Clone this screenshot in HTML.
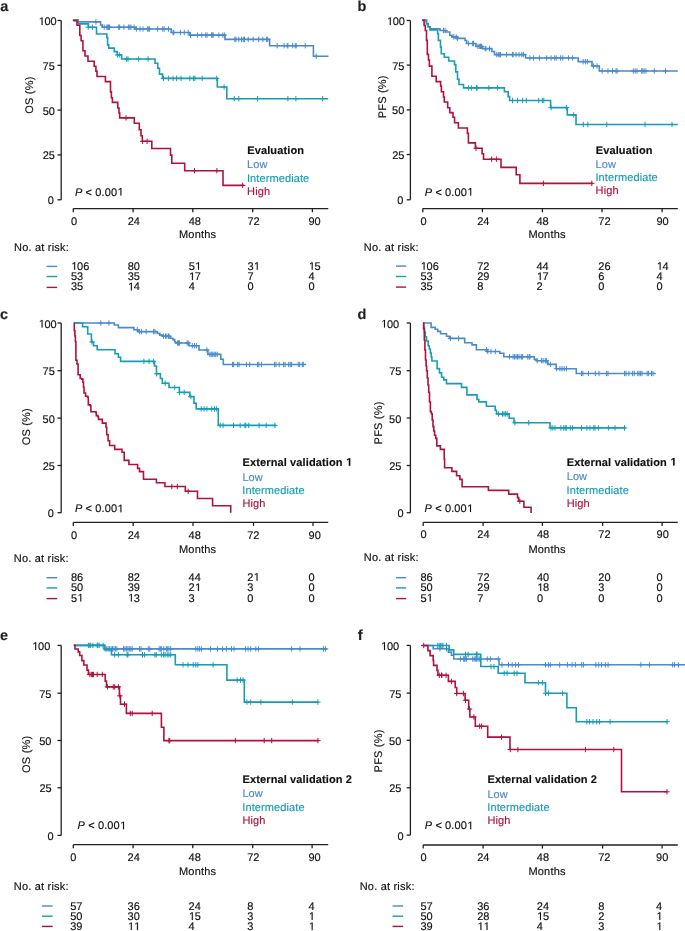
<!DOCTYPE html>
<html><head><meta charset="utf-8"><style>
html,body{margin:0;padding:0;background:#fff;}
body{width:685px;height:931px;overflow:hidden;}
svg{display:block;font-family:"Liberation Sans", sans-serif;will-change:transform;text-rendering:geometricPrecision;}
</style></head><body>
<svg width="685" height="931" viewBox="0 0 685 931">
<rect width="685" height="931" fill="#fff"/>
<text x="0.18" y="10.8" font-size="14.5" font-weight="bold" font-style="normal" fill="#231f20" stroke="#231f20" stroke-width="0.15" >a</text>
<line x1="61.2" y1="20.5" x2="61.2" y2="199.8" stroke="#231f20" stroke-width="1.3"/>
<line x1="57.5" y1="20.5" x2="61.2" y2="20.5" stroke="#231f20" stroke-width="1.3"/>
<path transform="translate(38.38,25) scale(0.005371,-0.005371)" d="M600 0L600 1237L282 1010L282 1180L615 1409L781 1409L781 0Z" fill="#111111" stroke="#111111" stroke-width="27.9"/>
<text x="38.38" y="25" font-size="11" font-weight="normal" font-style="normal" fill="#111111" stroke="#111111" stroke-width="0.15" > 00</text>
<line x1="57.5" y1="65.3" x2="61.2" y2="65.3" stroke="#231f20" stroke-width="1.3"/>
<text x="42.53" y="69.8" font-size="11" font-weight="normal" font-style="normal" fill="#111111" stroke="#111111" stroke-width="0.15" >75</text>
<line x1="57.5" y1="110.1" x2="61.2" y2="110.1" stroke="#231f20" stroke-width="1.3"/>
<text x="42.69" y="114.6" font-size="11" font-weight="normal" font-style="normal" fill="#111111" stroke="#111111" stroke-width="0.15" >50</text>
<line x1="57.5" y1="154.9" x2="61.2" y2="154.9" stroke="#231f20" stroke-width="1.3"/>
<text x="42.73" y="159.4" font-size="11" font-weight="normal" font-style="normal" fill="#111111" stroke="#111111" stroke-width="0.15" >25</text>
<line x1="57.5" y1="199.8" x2="61.2" y2="199.8" stroke="#231f20" stroke-width="1.3"/>
<text x="47.81" y="204.3" font-size="11" font-weight="normal" font-style="normal" fill="#111111" stroke="#111111" stroke-width="0.15" >0</text>
<text transform="translate(33.2,95.2) rotate(-90)" x="-18.53" y="0" font-size="11" fill="#111111" stroke="#111111" stroke-width="0.15" letter-spacing="0.2">OS (%)</text>
<line x1="73.3" y1="208.6" x2="328.3" y2="208.6" stroke="#231f20" stroke-width="1.3"/>
<line x1="73.3" y1="208.6" x2="73.3" y2="212.2" stroke="#231f20" stroke-width="1.3"/>
<line x1="133.1" y1="208.6" x2="133.1" y2="212.2" stroke="#231f20" stroke-width="1.3"/>
<line x1="192.8" y1="208.6" x2="192.8" y2="212.2" stroke="#231f20" stroke-width="1.3"/>
<line x1="252.7" y1="208.6" x2="252.7" y2="212.2" stroke="#231f20" stroke-width="1.3"/>
<line x1="312.4" y1="208.6" x2="312.4" y2="212.2" stroke="#231f20" stroke-width="1.3"/>
<text x="70.95" y="225" font-size="11" font-weight="normal" font-style="normal" fill="#111111" stroke="#111111" stroke-width="0.15" >0</text>
<text x="127.65" y="225" font-size="11" font-weight="normal" font-style="normal" fill="#111111" stroke="#111111" stroke-width="0.15" >24</text>
<text x="188.7" y="225" font-size="11" font-weight="normal" font-style="normal" fill="#111111" stroke="#111111" stroke-width="0.15" >48</text>
<text x="247.4" y="225" font-size="11" font-weight="normal" font-style="normal" fill="#111111" stroke="#111111" stroke-width="0.15" >72</text>
<text x="308.5" y="225" font-size="11" font-weight="normal" font-style="normal" fill="#111111" stroke="#111111" stroke-width="0.15" >90</text>
<text x="179" y="238" font-size="11" font-weight="normal" font-style="normal" fill="#111111" stroke="#111111" stroke-width="0.15" letter-spacing="0.2" >Months</text>
<text x="74.96" y="195.6" font-size="11" fill="#111111" stroke="#111111" stroke-width="0.15" letter-spacing="0.12"><tspan font-style="italic">P</tspan> &lt; 0.00 </text>
<path transform="translate(117.2,195.6) scale(0.005371,-0.005371)" d="M600 0L600 1237L282 1010L282 1180L615 1409L781 1409L781 0Z" fill="#111111" stroke="#111111" stroke-width="27.9"/>
<text x="247.26" y="153.8" font-size="11" font-weight="bold" font-style="normal" fill="#111111" stroke="#111111" stroke-width="0.15" letter-spacing="0.12" >Evaluation</text>
<text x="247.1" y="168" font-size="11" font-weight="normal" font-style="normal" fill="#4a8bcb" stroke="#4a8bcb" stroke-width="0.15" letter-spacing="0.1" >Low</text>
<text x="246.98" y="181.5" font-size="11" font-weight="normal" font-style="normal" fill="#189db5" stroke="#189db5" stroke-width="0.15" letter-spacing="0.1" >Intermediate</text>
<text x="247.1" y="194.9" font-size="11" font-weight="normal" font-style="normal" fill="#b0123f" stroke="#b0123f" stroke-width="0.15" letter-spacing="0.1" >High</text>
<text x="14" y="250.9" font-size="11" font-weight="normal" font-style="normal" fill="#111111" stroke="#111111" stroke-width="0.15" letter-spacing="0.2" >No. at risk:</text>
<line x1="46.6" y1="266.4" x2="57.1" y2="266.4" stroke="#4a8bcb" stroke-width="1.4"/>
<line x1="46.6" y1="276.5" x2="57.1" y2="276.5" stroke="#189db5" stroke-width="1.4"/>
<line x1="46.6" y1="287.4" x2="57.1" y2="287.4" stroke="#b0123f" stroke-width="1.4"/>
<path transform="translate(70.95,269.8) scale(0.005371,-0.005371)" d="M600 0L600 1237L282 1010L282 1180L615 1409L781 1409L781 0Z" fill="#111111" stroke="#111111" stroke-width="27.9"/>
<text x="70.95" y="269.8" font-size="11" font-weight="normal" font-style="normal" fill="#111111" stroke="#111111" stroke-width="0.15" > 06</text>
<text x="127.65" y="269.8" font-size="11" font-weight="normal" font-style="normal" fill="#111111" stroke="#111111" stroke-width="0.15" >80</text>
<path transform="translate(194.82,269.8) scale(0.005371,-0.005371)" d="M600 0L600 1237L282 1010L282 1180L615 1409L781 1409L781 0Z" fill="#111111" stroke="#111111" stroke-width="27.9"/>
<text x="188.7" y="269.8" font-size="11" font-weight="normal" font-style="normal" fill="#111111" stroke="#111111" stroke-width="0.15" >5 </text>
<path transform="translate(253.52,269.8) scale(0.005371,-0.005371)" d="M600 0L600 1237L282 1010L282 1180L615 1409L781 1409L781 0Z" fill="#111111" stroke="#111111" stroke-width="27.9"/>
<text x="247.4" y="269.8" font-size="11" font-weight="normal" font-style="normal" fill="#111111" stroke="#111111" stroke-width="0.15" >3 </text>
<path transform="translate(308.5,269.8) scale(0.005371,-0.005371)" d="M600 0L600 1237L282 1010L282 1180L615 1409L781 1409L781 0Z" fill="#111111" stroke="#111111" stroke-width="27.9"/>
<text x="308.5" y="269.8" font-size="11" font-weight="normal" font-style="normal" fill="#111111" stroke="#111111" stroke-width="0.15" > 5</text>
<text x="70.95" y="280.1" font-size="11" font-weight="normal" font-style="normal" fill="#111111" stroke="#111111" stroke-width="0.15" >53</text>
<text x="127.65" y="280.1" font-size="11" font-weight="normal" font-style="normal" fill="#111111" stroke="#111111" stroke-width="0.15" >35</text>
<path transform="translate(188.7,280.1) scale(0.005371,-0.005371)" d="M600 0L600 1237L282 1010L282 1180L615 1409L781 1409L781 0Z" fill="#111111" stroke="#111111" stroke-width="27.9"/>
<text x="188.7" y="280.1" font-size="11" font-weight="normal" font-style="normal" fill="#111111" stroke="#111111" stroke-width="0.15" > 7</text>
<text x="247.4" y="280.1" font-size="11" font-weight="normal" font-style="normal" fill="#111111" stroke="#111111" stroke-width="0.15" >7</text>
<text x="308.5" y="280.1" font-size="11" font-weight="normal" font-style="normal" fill="#111111" stroke="#111111" stroke-width="0.15" >4</text>
<text x="70.95" y="290.4" font-size="11" font-weight="normal" font-style="normal" fill="#111111" stroke="#111111" stroke-width="0.15" >35</text>
<path transform="translate(127.65,290.4) scale(0.005371,-0.005371)" d="M600 0L600 1237L282 1010L282 1180L615 1409L781 1409L781 0Z" fill="#111111" stroke="#111111" stroke-width="27.9"/>
<text x="127.65" y="290.4" font-size="11" font-weight="normal" font-style="normal" fill="#111111" stroke="#111111" stroke-width="0.15" > 4</text>
<text x="188.7" y="290.4" font-size="11" font-weight="normal" font-style="normal" fill="#111111" stroke="#111111" stroke-width="0.15" >4</text>
<text x="247.4" y="290.4" font-size="11" font-weight="normal" font-style="normal" fill="#111111" stroke="#111111" stroke-width="0.15" >0</text>
<text x="308.5" y="290.4" font-size="11" font-weight="normal" font-style="normal" fill="#111111" stroke="#111111" stroke-width="0.15" >0</text>
<path d="M73.3 20.4 H78.3 V21.9 H100.6 V25 H102.3 V27.2 H135 V29 H171.2 V32.5 H189.9 V35.1 H225 V39.4 H269.6 V45.7 H313.4 V56.3 H328.5" fill="none" stroke="#4a8bcb" stroke-width="1.6" stroke-linejoin="miter" stroke-linecap="butt"/>
<path d="M95.9 19.2V24.6M93.2 21.9H98.6M104.2 24.5V29.9M101.5 27.2H106.9M106.8 24.5V29.9M104.1 27.2H109.5M107.7 24.5V29.9M105 27.2H110.4M108.6 24.5V29.9M105.9 27.2H111.3M109.5 24.5V29.9M106.8 27.2H112.2M118.7 24.5V29.9M116 27.2H121.4M119.7 24.5V29.9M117 27.2H122.4M123.9 24.5V29.9M121.2 27.2H126.6M128.4 24.5V29.9M125.7 27.2H131.1M129.9 24.5V29.9M127.2 27.2H132.6M131 24.5V29.9M128.3 27.2H133.7M134.2 24.5V29.9M131.5 27.2H136.9M136.4 26.3V31.7M133.7 29H139.1M140 26.3V31.7M137.3 29H142.7M143 26.3V31.7M140.3 29H145.7M147.4 26.3V31.7M144.7 29H150.1M148.8 26.3V31.7M146.1 29H151.5M149.6 26.3V31.7M146.9 29H152.3M157.6 26.3V31.7M154.9 29H160.3M162.7 26.3V31.7M160 29H165.4M164.2 26.3V31.7M161.5 29H166.9M168.5 26.3V31.7M165.8 29H171.2M173.1 29.8V35.2M170.4 32.5H175.8M173.8 29.8V35.2M171.1 32.5H176.5M180.4 29.8V35.2M177.7 32.5H183.1M184.3 29.8V35.2M181.6 32.5H187M188.2 29.8V35.2M185.5 32.5H190.9M190.5 32.4V37.8M187.8 35.1H193.2M197.4 32.4V37.8M194.7 35.1H200.1M201.8 32.4V37.8M199.1 35.1H204.5M205.7 32.4V37.8M203 35.1H208.4M207 32.4V37.8M204.3 35.1H209.7M211.6 32.4V37.8M208.9 35.1H214.3M212.3 32.4V37.8M209.6 35.1H215M213.2 32.4V37.8M210.5 35.1H215.9M218.9 32.4V37.8M216.2 35.1H221.6M222.8 32.4V37.8M220.1 35.1H225.5M224.4 32.4V37.8M221.7 35.1H227.1M234.9 36.7V42.1M232.2 39.4H237.6M235.9 36.7V42.1M233.2 39.4H238.6M238.8 36.7V42.1M236.1 39.4H241.5M241.5 36.7V42.1M238.8 39.4H244.2M243.3 36.7V42.1M240.6 39.4H246M244.5 36.7V42.1M241.8 39.4H247.2M248.2 36.7V42.1M245.5 39.4H250.9M253.2 36.7V42.1M250.5 39.4H255.9M258.7 36.7V42.1M256 39.4H261.4M262.9 36.7V42.1M260.2 39.4H265.6M266.6 36.7V42.1M263.9 39.4H269.3M267.7 36.7V42.1M265 39.4H270.4M277.2 43V48.4M274.5 45.7H279.9M284.1 43V48.4M281.4 45.7H286.8M287.2 43V48.4M284.5 45.7H289.9M287.9 43V48.4M285.2 45.7H290.6M292.7 43V48.4M290 45.7H295.4M295.2 43V48.4M292.5 45.7H297.9M296.2 43V48.4M293.5 45.7H298.9M305.2 43V48.4M302.5 45.7H307.9M316.2 53.6V59M313.5 56.3H318.9" fill="none" stroke="#4a8bcb" stroke-width="1.0"/>
<path d="M73.3 20.4 H78.1 V23.9 H88.4 V27.2 H96.5 V34 H106.8 V37.6 H107.6 V44.9 H108.8 V48.1 H114.3 V51.6 H117.2 V54.9 H121.6 V59 H155 V63.2 H157.8 V68.3 H159.5 V74.1 H162.5 V78.4 H217.3 V87 H226.8 V98.7 H328.2" fill="none" stroke="#189db5" stroke-width="1.6" stroke-linejoin="miter" stroke-linecap="butt"/>
<path d="M88.2 24.5V29.9M85.5 27.2H90.9M92.4 24.5V29.9M89.7 27.2H95.1M117.5 52.2V57.6M114.8 54.9H120.2M119.3 52.2V57.6M116.6 54.9H122M126.6 56.3V61.7M123.9 59H129.3M128 56.3V61.7M125.3 59H130.7M138.7 56.3V61.7M136 59H141.4M148.1 56.3V61.7M145.4 59H150.8M163.5 75.7V81.1M160.8 78.4H166.2M168.6 75.7V81.1M165.9 78.4H171.3M173 75.7V81.1M170.3 78.4H175.7M176.6 75.7V81.1M173.9 78.4H179.3M181 75.7V81.1M178.3 78.4H183.7M189.8 75.7V81.1M187.1 78.4H192.5M193.4 75.7V81.1M190.7 78.4H196.1M194.9 75.7V81.1M192.2 78.4H197.6M202.2 75.7V81.1M199.5 78.4H204.9M216.7 75.7V81.1M214 78.4H219.4M224.1 84.3V89.7M221.4 87H226.8M234.3 96V101.4M231.6 98.7H237M238.8 96V101.4M236.1 98.7H241.5M257.6 96V101.4M254.9 98.7H260.3M287.9 96V101.4M285.2 98.7H290.6M295.9 96V101.4M293.2 98.7H298.6M322.6 96V101.4M319.9 98.7H325.3" fill="none" stroke="#189db5" stroke-width="1.0"/>
<path d="M72.8 20.4 H77 V25.3 H79.8 V35.5 H81.1 V40.7 H82.9 V50.7 H85 V56 H88 V61.3 H94.2 V66.2 H95.9 V71.1 H97 V76.5 H105.4 V81.6 H110.5 V91.9 H111.4 V97.7 H112.4 V102.4 H117.8 V108 H119 V113 H119.7 V117.9 H134.3 V123.3 H139.3 V129.7 H141 V135.8 H142.3 V141.3 H151.8 V148.5 H170.5 V155.1 H171.8 V163.3 H184.7 V170.7 H223 V185.4 H244" fill="none" stroke="#b0123f" stroke-width="1.6" stroke-linejoin="miter" stroke-linecap="butt"/>
<path d="M126 115.2V120.6M123.3 117.9H128.7M142.6 138.6V144M139.9 141.3H145.3M147.1 138.6V144M144.4 141.3H149.8M194.5 168V173.4M191.8 170.7H197.2M216.9 168V173.4M214.2 170.7H219.6M242.6 182.7V188.1M239.9 185.4H245.3" fill="none" stroke="#b0123f" stroke-width="1.0"/>
<text x="357.54" y="10.8" font-size="14.5" font-weight="bold" font-style="normal" fill="#231f20" stroke="#231f20" stroke-width="0.15" >b</text>
<line x1="410.4" y1="20.5" x2="410.4" y2="199.8" stroke="#231f20" stroke-width="1.3"/>
<line x1="406.7" y1="20.5" x2="410.4" y2="20.5" stroke="#231f20" stroke-width="1.3"/>
<path transform="translate(386.58,25) scale(0.005371,-0.005371)" d="M600 0L600 1237L282 1010L282 1180L615 1409L781 1409L781 0Z" fill="#111111" stroke="#111111" stroke-width="27.9"/>
<text x="386.58" y="25" font-size="11" font-weight="normal" font-style="normal" fill="#111111" stroke="#111111" stroke-width="0.15" > 00</text>
<line x1="406.7" y1="65.1" x2="410.4" y2="65.1" stroke="#231f20" stroke-width="1.3"/>
<text x="392.13" y="69.6" font-size="11" font-weight="normal" font-style="normal" fill="#111111" stroke="#111111" stroke-width="0.15" >75</text>
<line x1="406.7" y1="109.9" x2="410.4" y2="109.9" stroke="#231f20" stroke-width="1.3"/>
<text x="392.09" y="114.4" font-size="11" font-weight="normal" font-style="normal" fill="#111111" stroke="#111111" stroke-width="0.15" >50</text>
<line x1="406.7" y1="154.5" x2="410.4" y2="154.5" stroke="#231f20" stroke-width="1.3"/>
<text x="392.13" y="159" font-size="11" font-weight="normal" font-style="normal" fill="#111111" stroke="#111111" stroke-width="0.15" >25</text>
<line x1="406.7" y1="199.8" x2="410.4" y2="199.8" stroke="#231f20" stroke-width="1.3"/>
<text x="397.31" y="204.3" font-size="11" font-weight="normal" font-style="normal" fill="#111111" stroke="#111111" stroke-width="0.15" >0</text>
<text transform="translate(385.7,96.9) rotate(-90)" x="-21.38" y="0" font-size="11" fill="#111111" stroke="#111111" stroke-width="0.15" letter-spacing="0.2">PFS (%)</text>
<line x1="422.8" y1="208.6" x2="677.8" y2="208.6" stroke="#231f20" stroke-width="1.3"/>
<line x1="422.8" y1="208.6" x2="422.8" y2="212.2" stroke="#231f20" stroke-width="1.3"/>
<line x1="482.4" y1="208.6" x2="482.4" y2="212.2" stroke="#231f20" stroke-width="1.3"/>
<line x1="542.4" y1="208.6" x2="542.4" y2="212.2" stroke="#231f20" stroke-width="1.3"/>
<line x1="602" y1="208.6" x2="602" y2="212.2" stroke="#231f20" stroke-width="1.3"/>
<line x1="662.1" y1="208.6" x2="662.1" y2="212.2" stroke="#231f20" stroke-width="1.3"/>
<text x="420.4" y="224.8" font-size="11" font-weight="normal" font-style="normal" fill="#111111" stroke="#111111" stroke-width="0.15" >0</text>
<text x="477.2" y="224.8" font-size="11" font-weight="normal" font-style="normal" fill="#111111" stroke="#111111" stroke-width="0.15" >24</text>
<text x="536.5" y="224.8" font-size="11" font-weight="normal" font-style="normal" fill="#111111" stroke="#111111" stroke-width="0.15" >48</text>
<text x="598.3" y="224.8" font-size="11" font-weight="normal" font-style="normal" fill="#111111" stroke="#111111" stroke-width="0.15" >72</text>
<text x="656.4" y="224.8" font-size="11" font-weight="normal" font-style="normal" fill="#111111" stroke="#111111" stroke-width="0.15" >90</text>
<text x="528.4" y="237.7" font-size="11" font-weight="normal" font-style="normal" fill="#111111" stroke="#111111" stroke-width="0.15" letter-spacing="0.2" >Months</text>
<text x="424.76" y="195.6" font-size="11" fill="#111111" stroke="#111111" stroke-width="0.15" letter-spacing="0.12"><tspan font-style="italic">P</tspan> &lt; 0.00 </text>
<path transform="translate(467,195.6) scale(0.005371,-0.005371)" d="M600 0L600 1237L282 1010L282 1180L615 1409L781 1409L781 0Z" fill="#111111" stroke="#111111" stroke-width="27.9"/>
<text x="595.76" y="154" font-size="11" font-weight="bold" font-style="normal" fill="#111111" stroke="#111111" stroke-width="0.15" letter-spacing="0.12" >Evaluation</text>
<text x="595.6" y="168" font-size="11" font-weight="normal" font-style="normal" fill="#4a8bcb" stroke="#4a8bcb" stroke-width="0.15" letter-spacing="0.1" >Low</text>
<text x="595.48" y="181.4" font-size="11" font-weight="normal" font-style="normal" fill="#189db5" stroke="#189db5" stroke-width="0.15" letter-spacing="0.1" >Intermediate</text>
<text x="595.6" y="194.4" font-size="11" font-weight="normal" font-style="normal" fill="#b0123f" stroke="#b0123f" stroke-width="0.15" letter-spacing="0.1" >High</text>
<text x="363.8" y="250.9" font-size="11" font-weight="normal" font-style="normal" fill="#111111" stroke="#111111" stroke-width="0.15" letter-spacing="0.2" >No. at risk:</text>
<line x1="396" y1="266.1" x2="406.2" y2="266.1" stroke="#4a8bcb" stroke-width="1.4"/>
<line x1="396" y1="276.5" x2="406.2" y2="276.5" stroke="#189db5" stroke-width="1.4"/>
<line x1="396" y1="287.1" x2="406.2" y2="287.1" stroke="#b0123f" stroke-width="1.4"/>
<path transform="translate(420.4,269.8) scale(0.005371,-0.005371)" d="M600 0L600 1237L282 1010L282 1180L615 1409L781 1409L781 0Z" fill="#111111" stroke="#111111" stroke-width="27.9"/>
<text x="420.4" y="269.8" font-size="11" font-weight="normal" font-style="normal" fill="#111111" stroke="#111111" stroke-width="0.15" > 06</text>
<text x="477.2" y="269.8" font-size="11" font-weight="normal" font-style="normal" fill="#111111" stroke="#111111" stroke-width="0.15" >72</text>
<text x="536.5" y="269.8" font-size="11" font-weight="normal" font-style="normal" fill="#111111" stroke="#111111" stroke-width="0.15" >44</text>
<text x="598.3" y="269.8" font-size="11" font-weight="normal" font-style="normal" fill="#111111" stroke="#111111" stroke-width="0.15" >26</text>
<path transform="translate(656.4,269.8) scale(0.005371,-0.005371)" d="M600 0L600 1237L282 1010L282 1180L615 1409L781 1409L781 0Z" fill="#111111" stroke="#111111" stroke-width="27.9"/>
<text x="656.4" y="269.8" font-size="11" font-weight="normal" font-style="normal" fill="#111111" stroke="#111111" stroke-width="0.15" > 4</text>
<text x="420.4" y="280.1" font-size="11" font-weight="normal" font-style="normal" fill="#111111" stroke="#111111" stroke-width="0.15" >53</text>
<text x="477.2" y="280.1" font-size="11" font-weight="normal" font-style="normal" fill="#111111" stroke="#111111" stroke-width="0.15" >29</text>
<path transform="translate(536.5,280.1) scale(0.005371,-0.005371)" d="M600 0L600 1237L282 1010L282 1180L615 1409L781 1409L781 0Z" fill="#111111" stroke="#111111" stroke-width="27.9"/>
<text x="536.5" y="280.1" font-size="11" font-weight="normal" font-style="normal" fill="#111111" stroke="#111111" stroke-width="0.15" > 7</text>
<text x="598.3" y="280.1" font-size="11" font-weight="normal" font-style="normal" fill="#111111" stroke="#111111" stroke-width="0.15" >6</text>
<text x="656.4" y="280.1" font-size="11" font-weight="normal" font-style="normal" fill="#111111" stroke="#111111" stroke-width="0.15" >4</text>
<text x="420.4" y="290.4" font-size="11" font-weight="normal" font-style="normal" fill="#111111" stroke="#111111" stroke-width="0.15" >35</text>
<text x="477.2" y="290.4" font-size="11" font-weight="normal" font-style="normal" fill="#111111" stroke="#111111" stroke-width="0.15" >8</text>
<text x="536.5" y="290.4" font-size="11" font-weight="normal" font-style="normal" fill="#111111" stroke="#111111" stroke-width="0.15" >2</text>
<text x="598.3" y="290.4" font-size="11" font-weight="normal" font-style="normal" fill="#111111" stroke="#111111" stroke-width="0.15" >0</text>
<text x="656.4" y="290.4" font-size="11" font-weight="normal" font-style="normal" fill="#111111" stroke="#111111" stroke-width="0.15" >0</text>
<path d="M422.8 20.4 H426.5 V23.8 H428.2 V26.7 H430 V28.8 H440 V30.5 H445.6 V32 H449.8 V35.3 H452 V36.9 H456.9 V38.4 H465 V40.5 H466.6 V43.5 H475.9 V46.4 H482.5 V48.6 H491.9 V51.5 H494.5 V54.6 H525.6 V58 H578.2 V61.6 H592 V66 H599.3 V71 H677.8" fill="none" stroke="#4a8bcb" stroke-width="1.6" stroke-linejoin="miter" stroke-linecap="butt"/>
<path d="M443.5 27.8V33.2M440.8 30.5H446.2M445 27.8V33.2M442.3 30.5H447.7M453.8 34.2V39.6M451.1 36.9H456.5M456.2 34.2V39.6M453.5 36.9H458.9M457.4 35.7V41.1M454.7 38.4H460.1M468.4 40.8V46.2M465.7 43.5H471.1M472.7 40.8V46.2M470 43.5H475.4M473.5 40.8V46.2M470.8 43.5H476.2M477.9 43.7V49.1M475.2 46.4H480.6M479.3 43.7V49.1M476.6 46.4H482M480.5 43.7V49.1M477.8 46.4H483.2M481.5 43.7V49.1M478.8 46.4H484.2M485.2 45.9V51.3M482.5 48.6H487.9M485.9 45.9V51.3M483.2 48.6H488.6M489.5 45.9V51.3M486.8 48.6H492.2M496.8 51.9V57.3M494.1 54.6H499.5M498.3 51.9V57.3M495.6 54.6H501M499.8 51.9V57.3M497.1 54.6H502.5M500.5 51.9V57.3M497.8 54.6H503.2M506.6 51.9V57.3M503.9 54.6H509.3M512.4 51.9V57.3M509.7 54.6H515.1M513.1 51.9V57.3M510.4 54.6H515.8M516.1 51.9V57.3M513.4 54.6H518.8M519 51.9V57.3M516.3 54.6H521.7M521.9 51.9V57.3M519.2 54.6H524.6M523.4 51.9V57.3M520.7 54.6H526.1M529.9 55.3V60.7M527.2 58H532.6M533.6 55.3V60.7M530.9 58H536.3M539.4 55.3V60.7M536.7 58H542.1M546.7 55.3V60.7M544 58H549.4M551.1 55.3V60.7M548.4 58H553.8M554.7 55.3V60.7M552 58H557.4M556.2 55.3V60.7M553.5 58H558.9M560.6 55.3V60.7M557.9 58H563.3M562.8 55.3V60.7M560.1 58H565.5M568.6 55.3V60.7M565.9 58H571.3M572.6 55.3V60.7M569.9 58H575.3M583.2 58.9V64.3M580.5 61.6H585.9M585.4 58.9V64.3M582.7 61.6H588.1M587.3 58.9V64.3M584.6 61.6H590M593.4 63.3V68.7M590.7 66H596.1M597 63.3V68.7M594.3 66H599.7M602.2 68.3V73.7M599.5 71H604.9M608 68.3V73.7M605.3 71H610.7M612.5 68.3V73.7M609.8 71H615.2M616 68.3V73.7M613.3 71H618.7M617.1 68.3V73.7M614.4 71H619.8M633.3 68.3V73.7M630.6 71H636M635.2 68.3V73.7M632.5 71H637.9M637 68.3V73.7M634.3 71H639.7M641.6 68.3V73.7M638.9 71H644.3M642.8 68.3V73.7M640.1 71H645.5M644.1 68.3V73.7M641.4 71H646.8M645.9 68.3V73.7M643.2 71H648.6M654.3 68.3V73.7M651.6 71H657M665.5 68.3V73.7M662.8 71H668.2" fill="none" stroke="#4a8bcb" stroke-width="1.0"/>
<path d="M422.8 20.4 H426.5 V23.8 H428.2 V26.7 H430 V29.9 H437.6 V33.7 H438.4 V40.4 H440.5 V47.1 H441.3 V53.7 H444.3 V57.3 H448.7 V61 H454.5 V64.6 H455.8 V71.9 H457.5 V79.2 H459 V84.5 H463.5 V87.9 H504.4 V91.8 H508.2 V96.6 H509.6 V100.5 H550.6 V107.6 H567.3 V114.9 H576 V124.5 H677.8" fill="none" stroke="#189db5" stroke-width="1.6" stroke-linejoin="miter" stroke-linecap="butt"/>
<path d="M468.4 85.2V90.6M465.7 87.9H471.1M471.3 85.2V90.6M468.6 87.9H474M476.4 85.2V90.6M473.7 87.9H479.1M477.1 85.2V90.6M474.4 87.9H479.8M488.8 85.2V90.6M486.1 87.9H491.5M497.6 85.2V90.6M494.9 87.9H500.3M512.5 97.8V103.2M509.8 100.5H515.2M517.5 97.8V103.2M514.8 100.5H520.2M522.6 97.8V103.2M519.9 100.5H525.3M526.3 97.8V103.2M523.6 100.5H529M538.7 97.8V103.2M536 100.5H541.4M542.3 97.8V103.2M539.6 100.5H545M543.8 97.8V103.2M541.1 100.5H546.5M551.1 104.9V110.3M548.4 107.6H553.8M566.4 104.9V110.3M563.7 107.6H569.1M573.7 112.2V117.6M571 114.9H576.4M583.3 121.8V127.2M580.6 124.5H586M587.8 121.8V127.2M585.1 124.5H590.5M606.8 121.8V127.2M604.1 124.5H609.5M645.1 121.8V127.2M642.4 124.5H647.8M672 121.8V127.2M669.3 124.5H674.7" fill="none" stroke="#189db5" stroke-width="1.0"/>
<path d="M422.1 20.1 H424.1 V25.5 H425.3 V30.5 H426.5 V40.4 H427.3 V54.4 H428.5 V60 H429.4 V66.1 H431.9 V76.2 H436.2 V81.6 H440.6 V86 H441.4 V91.8 H443.5 V97 H444.3 V102 H447.7 V107.7 H449.8 V112.6 H453 V117.3 H454.6 V122.7 H458.4 V128 H467.4 V133.3 H468.4 V142.9 H475.4 V148.2 H482.1 V153.7 H483.5 V159.2 H501 V167.4 H516.2 V174.8 H519.9 V183.4 H592.8" fill="none" stroke="#b0123f" stroke-width="1.6" stroke-linejoin="miter" stroke-linecap="butt"/>
<path d="M476 145.5V150.9M473.3 148.2H478.7M491.7 156.5V161.9M489 159.2H494.4M496.4 156.5V161.9M493.7 159.2H499.1M543.4 180.7V186.1M540.7 183.4H546.1M591.8 180.7V186.1M589.1 183.4H594.5" fill="none" stroke="#b0123f" stroke-width="1.0"/>
<text x="0.03" y="318.8" font-size="14.5" font-weight="bold" font-style="normal" fill="#231f20" stroke="#231f20" stroke-width="0.15" >c</text>
<line x1="61.2" y1="323" x2="61.2" y2="512.7" stroke="#231f20" stroke-width="1.3"/>
<line x1="57.5" y1="323" x2="61.2" y2="323" stroke="#231f20" stroke-width="1.3"/>
<path transform="translate(38.38,327.5) scale(0.005371,-0.005371)" d="M600 0L600 1237L282 1010L282 1180L615 1409L781 1409L781 0Z" fill="#111111" stroke="#111111" stroke-width="27.9"/>
<text x="38.38" y="327.5" font-size="11" font-weight="normal" font-style="normal" fill="#111111" stroke="#111111" stroke-width="0.15" > 00</text>
<line x1="57.5" y1="370.7" x2="61.2" y2="370.7" stroke="#231f20" stroke-width="1.3"/>
<text x="42.53" y="375.2" font-size="11" font-weight="normal" font-style="normal" fill="#111111" stroke="#111111" stroke-width="0.15" >75</text>
<line x1="57.5" y1="418.1" x2="61.2" y2="418.1" stroke="#231f20" stroke-width="1.3"/>
<text x="42.59" y="422.6" font-size="11" font-weight="normal" font-style="normal" fill="#111111" stroke="#111111" stroke-width="0.15" >50</text>
<line x1="57.5" y1="465.5" x2="61.2" y2="465.5" stroke="#231f20" stroke-width="1.3"/>
<text x="42.73" y="470" font-size="11" font-weight="normal" font-style="normal" fill="#111111" stroke="#111111" stroke-width="0.15" >25</text>
<line x1="57.5" y1="512.7" x2="61.2" y2="512.7" stroke="#231f20" stroke-width="1.3"/>
<text x="47.81" y="517.2" font-size="11" font-weight="normal" font-style="normal" fill="#111111" stroke="#111111" stroke-width="0.15" >0</text>
<text transform="translate(29.7,426.8) rotate(-90)" x="-18.53" y="0" font-size="11" fill="#111111" stroke="#111111" stroke-width="0.15" letter-spacing="0.2">OS (%)</text>
<line x1="73.3" y1="522.3" x2="328.2" y2="522.3" stroke="#231f20" stroke-width="1.3"/>
<line x1="73.3" y1="522.3" x2="73.3" y2="525.9" stroke="#231f20" stroke-width="1.3"/>
<line x1="133.2" y1="522.3" x2="133.2" y2="525.9" stroke="#231f20" stroke-width="1.3"/>
<line x1="193" y1="522.3" x2="193" y2="525.9" stroke="#231f20" stroke-width="1.3"/>
<line x1="253.5" y1="522.3" x2="253.5" y2="525.9" stroke="#231f20" stroke-width="1.3"/>
<line x1="313" y1="522.3" x2="313" y2="525.9" stroke="#231f20" stroke-width="1.3"/>
<text x="70.95" y="538.6" font-size="11" font-weight="normal" font-style="normal" fill="#111111" stroke="#111111" stroke-width="0.15" >0</text>
<text x="127.65" y="538.6" font-size="11" font-weight="normal" font-style="normal" fill="#111111" stroke="#111111" stroke-width="0.15" >24</text>
<text x="188.6" y="538.6" font-size="11" font-weight="normal" font-style="normal" fill="#111111" stroke="#111111" stroke-width="0.15" >48</text>
<text x="247.2" y="538.6" font-size="11" font-weight="normal" font-style="normal" fill="#111111" stroke="#111111" stroke-width="0.15" >72</text>
<text x="308.6" y="538.6" font-size="11" font-weight="normal" font-style="normal" fill="#111111" stroke="#111111" stroke-width="0.15" >90</text>
<text x="179" y="552.7" font-size="11" font-weight="normal" font-style="normal" fill="#111111" stroke="#111111" stroke-width="0.15" letter-spacing="0.2" >Months</text>
<text x="74.96" y="512.3" font-size="11" fill="#111111" stroke="#111111" stroke-width="0.15" letter-spacing="0.12"><tspan font-style="italic">P</tspan> &lt; 0.00 </text>
<path transform="translate(117.2,512.3) scale(0.005371,-0.005371)" d="M600 0L600 1237L282 1010L282 1180L615 1409L781 1409L781 0Z" fill="#111111" stroke="#111111" stroke-width="27.9"/>
<path transform="translate(345.83,465.7) scale(0.005371,-0.005371)" d="M553 0L553 1170L215 959L215 1180L568 1409L834 1409L834 0Z" fill="#111111" stroke="#111111" stroke-width="27.9"/>
<text x="242.56" y="465.7" font-size="11" font-weight="bold" font-style="normal" fill="#111111" stroke="#111111" stroke-width="0.15" letter-spacing="0.12" >External validation  </text>
<text x="242.4" y="480.5" font-size="11" font-weight="normal" font-style="normal" fill="#4a8bcb" stroke="#4a8bcb" stroke-width="0.15" letter-spacing="0.1" >Low</text>
<text x="242.28" y="493.7" font-size="11" font-weight="normal" font-style="normal" fill="#189db5" stroke="#189db5" stroke-width="0.15" letter-spacing="0.1" >Intermediate</text>
<text x="242.4" y="506.9" font-size="11" font-weight="normal" font-style="normal" fill="#b0123f" stroke="#b0123f" stroke-width="0.15" letter-spacing="0.1" >High</text>
<text x="13.8" y="561.8" font-size="11" font-weight="normal" font-style="normal" fill="#111111" stroke="#111111" stroke-width="0.15" letter-spacing="0.2" >No. at risk:</text>
<line x1="46.6" y1="577.7" x2="57.2" y2="577.7" stroke="#4a8bcb" stroke-width="1.4"/>
<line x1="46.6" y1="587.9" x2="57.2" y2="587.9" stroke="#189db5" stroke-width="1.4"/>
<line x1="46.6" y1="598.6" x2="57.2" y2="598.6" stroke="#b0123f" stroke-width="1.4"/>
<text x="70.95" y="580.7" font-size="11" font-weight="normal" font-style="normal" fill="#111111" stroke="#111111" stroke-width="0.15" >86</text>
<text x="127.65" y="580.7" font-size="11" font-weight="normal" font-style="normal" fill="#111111" stroke="#111111" stroke-width="0.15" >82</text>
<text x="188.6" y="580.7" font-size="11" font-weight="normal" font-style="normal" fill="#111111" stroke="#111111" stroke-width="0.15" >44</text>
<path transform="translate(253.32,580.7) scale(0.005371,-0.005371)" d="M600 0L600 1237L282 1010L282 1180L615 1409L781 1409L781 0Z" fill="#111111" stroke="#111111" stroke-width="27.9"/>
<text x="247.2" y="580.7" font-size="11" font-weight="normal" font-style="normal" fill="#111111" stroke="#111111" stroke-width="0.15" >2 </text>
<text x="308.6" y="580.7" font-size="11" font-weight="normal" font-style="normal" fill="#111111" stroke="#111111" stroke-width="0.15" >0</text>
<text x="70.95" y="591.1" font-size="11" font-weight="normal" font-style="normal" fill="#111111" stroke="#111111" stroke-width="0.15" >50</text>
<text x="127.65" y="591.1" font-size="11" font-weight="normal" font-style="normal" fill="#111111" stroke="#111111" stroke-width="0.15" >39</text>
<path transform="translate(194.72,591.1) scale(0.005371,-0.005371)" d="M600 0L600 1237L282 1010L282 1180L615 1409L781 1409L781 0Z" fill="#111111" stroke="#111111" stroke-width="27.9"/>
<text x="188.6" y="591.1" font-size="11" font-weight="normal" font-style="normal" fill="#111111" stroke="#111111" stroke-width="0.15" >2 </text>
<text x="247.2" y="591.1" font-size="11" font-weight="normal" font-style="normal" fill="#111111" stroke="#111111" stroke-width="0.15" >3</text>
<text x="308.6" y="591.1" font-size="11" font-weight="normal" font-style="normal" fill="#111111" stroke="#111111" stroke-width="0.15" >0</text>
<path transform="translate(77.07,601.5) scale(0.005371,-0.005371)" d="M600 0L600 1237L282 1010L282 1180L615 1409L781 1409L781 0Z" fill="#111111" stroke="#111111" stroke-width="27.9"/>
<text x="70.95" y="601.5" font-size="11" font-weight="normal" font-style="normal" fill="#111111" stroke="#111111" stroke-width="0.15" >5 </text>
<path transform="translate(127.65,601.5) scale(0.005371,-0.005371)" d="M600 0L600 1237L282 1010L282 1180L615 1409L781 1409L781 0Z" fill="#111111" stroke="#111111" stroke-width="27.9"/>
<text x="127.65" y="601.5" font-size="11" font-weight="normal" font-style="normal" fill="#111111" stroke="#111111" stroke-width="0.15" > 3</text>
<text x="188.6" y="601.5" font-size="11" font-weight="normal" font-style="normal" fill="#111111" stroke="#111111" stroke-width="0.15" >3</text>
<text x="247.2" y="601.5" font-size="11" font-weight="normal" font-style="normal" fill="#111111" stroke="#111111" stroke-width="0.15" >0</text>
<text x="308.6" y="601.5" font-size="11" font-weight="normal" font-style="normal" fill="#111111" stroke="#111111" stroke-width="0.15" >0</text>
<path d="M73.8 323 H114.3 V325 H118.4 V327.6 H133.9 V329.7 H137.8 V331.6 H157.3 V333.4 H159.8 V335.1 H162.4 V336.2 H170.3 V338.2 H172.9 V339.6 H174.7 V341.7 H175.6 V343 H189 V345.7 H199 V350 H207.9 V354.4 H220.8 V359.3 H223.3 V364.5 H306.2" fill="none" stroke="#4a8bcb" stroke-width="1.6" stroke-linejoin="miter" stroke-linecap="butt"/>
<path d="M100.8 320.3V325.7M98.1 323H103.5M108.9 320.3V325.7M106.2 323H111.6M137.3 327V332.4M134.6 329.7H140M139.5 328.9V334.3M136.8 331.6H142.2M141.4 328.9V334.3M138.7 331.6H144.1M146.2 328.9V334.3M143.5 331.6H148.9M153.6 328.9V334.3M150.9 331.6H156.3M154.9 328.9V334.3M152.2 331.6H157.6M163.5 333.5V338.9M160.8 336.2H166.2M165.5 333.5V338.9M162.8 336.2H168.2M166.8 333.5V338.9M164.1 336.2H169.5M168.5 333.5V338.9M165.8 336.2H171.2M169 333.5V338.9M166.3 336.2H171.7M177.6 340.3V345.7M174.9 343H180.3M178.5 340.3V345.7M175.8 343H181.2M179.5 340.3V345.7M176.8 343H182.2M187.2 340.3V345.7M184.5 343H189.9M188.2 340.3V345.7M185.5 343H190.9M192.3 343V348.4M189.6 345.7H195M194.5 343V348.4M191.8 345.7H197.2M196.4 343V348.4M193.7 345.7H199.1M206.9 347.3V352.7M204.2 350H209.6M209.9 351.7V357.1M207.2 354.4H212.6M211.3 351.7V357.1M208.6 354.4H214M212.8 351.7V357.1M210.1 354.4H215.5M214.2 351.7V357.1M211.5 354.4H216.9M215.7 351.7V357.1M213 354.4H218.4M217.2 351.7V357.1M214.5 354.4H219.9M232.5 361.8V367.2M229.8 364.5H235.2M233.7 361.8V367.2M231 364.5H236.4M237.6 361.8V367.2M234.9 364.5H240.3M239.1 361.8V367.2M236.4 364.5H241.8M246.4 361.8V367.2M243.7 364.5H249.1M249.7 361.8V367.2M247 364.5H252.4M257.6 361.8V367.2M254.9 364.5H260.3M258.8 361.8V367.2M256.1 364.5H261.5M261.4 361.8V367.2M258.7 364.5H264.1M274.6 361.8V367.2M271.9 364.5H277.3M276 361.8V367.2M273.3 364.5H278.7M279.2 361.8V367.2M276.5 364.5H281.9M283.6 361.8V367.2M280.9 364.5H286.3M285.1 361.8V367.2M282.4 364.5H287.8M288.7 361.8V367.2M286 364.5H291.4M290.2 361.8V367.2M287.5 364.5H292.9M291.6 361.8V367.2M288.9 364.5H294.3M298.2 361.8V367.2M295.5 364.5H300.9M299.7 361.8V367.2M297 364.5H302.4M302.3 361.8V367.2M299.6 364.5H305M303.3 361.8V367.2M300.6 364.5H306" fill="none" stroke="#4a8bcb" stroke-width="1.0"/>
<path d="M73.8 323 H82.6 V326.7 H87.7 V334 H91.4 V342 H93.5 V345.7 H97.2 V349.7 H115 V353.7 H118.4 V357.3 H120.6 V361.4 H154.5 V366 H156.5 V373.8 H160.4 V378.5 H162.3 V383.3 H169 V387.5 H179.4 V392.4 H189.9 V396.6 H194 V403.2 H196.2 V408.9 H218.3 V425.4 H276.2" fill="none" stroke="#189db5" stroke-width="1.6" stroke-linejoin="miter" stroke-linecap="butt"/>
<path d="M92.1 339.3V344.7M89.4 342H94.8M143.9 358.7V364.1M141.2 361.4H146.6M149 358.7V364.1M146.3 361.4H151.7M153.4 358.7V364.1M150.7 361.4H156.1M156.6 371.1V376.5M153.9 373.8H159.3M165.2 380.6V386M162.5 383.3H167.9M174.7 384.8V390.2M172 387.5H177.4M179.4 389.7V395.1M176.7 392.4H182.1M184.2 389.7V395.1M181.5 392.4H186.9M190.8 393.9V399.3M188.1 396.6H193.5M201.2 406.2V411.6M198.5 408.9H203.9M204.1 406.2V411.6M201.4 408.9H206.8M206.9 406.2V411.6M204.2 408.9H209.6M211.7 406.2V411.6M209 408.9H214.4M214.5 406.2V411.6M211.8 408.9H217.2M216.4 406.2V411.6M213.7 408.9H219.1M220.2 422.7V428.1M217.5 425.4H222.9M223.1 422.7V428.1M220.4 425.4H225.8M233.5 422.7V428.1M230.8 425.4H236.2M240.2 422.7V428.1M237.5 425.4H242.9M244.9 422.7V428.1M242.2 425.4H247.6M245.8 422.7V428.1M243.1 425.4H248.5M248.7 422.7V428.1M246 425.4H251.4M259.1 422.7V428.1M256.4 425.4H261.8M266.2 422.7V428.1M263.5 425.4H268.9M274.9 422.7V428.1M272.2 425.4H277.6" fill="none" stroke="#189db5" stroke-width="1.0"/>
<path d="M73.8 323.2 H74.3 V330.7 H74.9 V336 H75.4 V341.5 H75.9 V360.3 H77 V364 H78.1 V374.8 H80.2 V378.5 H81.8 V379.1 H82.9 V382.3 H83.5 V387 H84 V393 H85.6 V396.3 H87.7 V397.3 H88.3 V404.9 H90.4 V405.9 H90.9 V411.8 H95.8 V412.4 H96.3 V415.6 H97.9 V416.7 H98.5 V419.4 H102.3 V423.1 H106 V427.2 H106.7 V434.8 H108.1 V440.7 H109.6 V445.5 H114.7 V449.4 H122 V452.3 H124.2 V460.4 H128.9 V464.5 H137.6 V468.4 H139.5 V471.6 H143.5 V479.3 H156.4 V482.8 H164.9 V486.5 H185.3 V491.3 H197.5 V498.5 H212.6 V505.8 H230.7 V512.7" fill="none" stroke="#b0123f" stroke-width="1.6" stroke-linejoin="miter" stroke-linecap="butt"/>
<path d="M171.8 483.8V489.2M169.1 486.5H174.5M177.3 483.8V489.2M174.6 486.5H180M188.2 488.6V494M185.5 491.3H190.9" fill="none" stroke="#b0123f" stroke-width="1.0"/>
<text x="357.41" y="318.9" font-size="14.5" font-weight="bold" font-style="normal" fill="#231f20" stroke="#231f20" stroke-width="0.15" >d</text>
<line x1="410.4" y1="323" x2="410.4" y2="512.7" stroke="#231f20" stroke-width="1.3"/>
<line x1="406.7" y1="323" x2="410.4" y2="323" stroke="#231f20" stroke-width="1.3"/>
<path transform="translate(380.78,327.5) scale(0.005371,-0.005371)" d="M600 0L600 1237L282 1010L282 1180L615 1409L781 1409L781 0Z" fill="#111111" stroke="#111111" stroke-width="27.9"/>
<text x="380.78" y="327.5" font-size="11" font-weight="normal" font-style="normal" fill="#111111" stroke="#111111" stroke-width="0.15" > 00</text>
<line x1="406.7" y1="370.7" x2="410.4" y2="370.7" stroke="#231f20" stroke-width="1.3"/>
<text x="389.13" y="375.2" font-size="11" font-weight="normal" font-style="normal" fill="#111111" stroke="#111111" stroke-width="0.15" >75</text>
<line x1="406.7" y1="418" x2="410.4" y2="418" stroke="#231f20" stroke-width="1.3"/>
<text x="389.09" y="422.5" font-size="11" font-weight="normal" font-style="normal" fill="#111111" stroke="#111111" stroke-width="0.15" >50</text>
<line x1="406.7" y1="465.5" x2="410.4" y2="465.5" stroke="#231f20" stroke-width="1.3"/>
<text x="389.13" y="470" font-size="11" font-weight="normal" font-style="normal" fill="#111111" stroke="#111111" stroke-width="0.15" >25</text>
<line x1="406.7" y1="512.7" x2="410.4" y2="512.7" stroke="#231f20" stroke-width="1.3"/>
<text x="397.61" y="517.2" font-size="11" font-weight="normal" font-style="normal" fill="#111111" stroke="#111111" stroke-width="0.15" >0</text>
<text transform="translate(382.2,423) rotate(-90)" x="-21.38" y="0" font-size="11" fill="#111111" stroke="#111111" stroke-width="0.15" letter-spacing="0.2">PFS (%)</text>
<line x1="423.2" y1="522.3" x2="677.8" y2="522.3" stroke="#231f20" stroke-width="1.3"/>
<line x1="423.2" y1="522.3" x2="423.2" y2="525.9" stroke="#231f20" stroke-width="1.3"/>
<line x1="483.1" y1="522.3" x2="483.1" y2="525.9" stroke="#231f20" stroke-width="1.3"/>
<line x1="542.4" y1="522.3" x2="542.4" y2="525.9" stroke="#231f20" stroke-width="1.3"/>
<line x1="602.6" y1="522.3" x2="602.6" y2="525.9" stroke="#231f20" stroke-width="1.3"/>
<line x1="662.1" y1="522.3" x2="662.1" y2="525.9" stroke="#231f20" stroke-width="1.3"/>
<text x="420.4" y="538.4" font-size="11" font-weight="normal" font-style="normal" fill="#111111" stroke="#111111" stroke-width="0.15" >0</text>
<text x="477.35" y="538.4" font-size="11" font-weight="normal" font-style="normal" fill="#111111" stroke="#111111" stroke-width="0.15" >24</text>
<text x="537" y="538.4" font-size="11" font-weight="normal" font-style="normal" fill="#111111" stroke="#111111" stroke-width="0.15" >48</text>
<text x="598.3" y="538.4" font-size="11" font-weight="normal" font-style="normal" fill="#111111" stroke="#111111" stroke-width="0.15" >72</text>
<text x="656.6" y="538.4" font-size="11" font-weight="normal" font-style="normal" fill="#111111" stroke="#111111" stroke-width="0.15" >90</text>
<text x="528.4" y="553" font-size="11" font-weight="normal" font-style="normal" fill="#111111" stroke="#111111" stroke-width="0.15" letter-spacing="0.2" >Months</text>
<text x="424.56" y="512.1" font-size="11" fill="#111111" stroke="#111111" stroke-width="0.15" letter-spacing="0.12"><tspan font-style="italic">P</tspan> &lt; 0.00 </text>
<path transform="translate(466.8,512.1) scale(0.005371,-0.005371)" d="M600 0L600 1237L282 1010L282 1180L615 1409L781 1409L781 0Z" fill="#111111" stroke="#111111" stroke-width="27.9"/>
<path transform="translate(670.13,465.6) scale(0.005371,-0.005371)" d="M553 0L553 1170L215 959L215 1180L568 1409L834 1409L834 0Z" fill="#111111" stroke="#111111" stroke-width="27.9"/>
<text x="566.86" y="465.6" font-size="11" font-weight="bold" font-style="normal" fill="#111111" stroke="#111111" stroke-width="0.15" letter-spacing="0.12" >External validation  </text>
<text x="566.7" y="480.4" font-size="11" font-weight="normal" font-style="normal" fill="#4a8bcb" stroke="#4a8bcb" stroke-width="0.15" letter-spacing="0.1" >Low</text>
<text x="566.58" y="493.8" font-size="11" font-weight="normal" font-style="normal" fill="#189db5" stroke="#189db5" stroke-width="0.15" letter-spacing="0.1" >Intermediate</text>
<text x="566.7" y="506.9" font-size="11" font-weight="normal" font-style="normal" fill="#b0123f" stroke="#b0123f" stroke-width="0.15" letter-spacing="0.1" >High</text>
<text x="363.8" y="561.3" font-size="11" font-weight="normal" font-style="normal" fill="#111111" stroke="#111111" stroke-width="0.15" letter-spacing="0.2" >No. at risk:</text>
<line x1="396" y1="577.7" x2="406.2" y2="577.7" stroke="#4a8bcb" stroke-width="1.4"/>
<line x1="396" y1="587.9" x2="406.2" y2="587.9" stroke="#189db5" stroke-width="1.4"/>
<line x1="396" y1="598.6" x2="406.2" y2="598.6" stroke="#b0123f" stroke-width="1.4"/>
<text x="420.4" y="580.7" font-size="11" font-weight="normal" font-style="normal" fill="#111111" stroke="#111111" stroke-width="0.15" >86</text>
<text x="477.35" y="580.7" font-size="11" font-weight="normal" font-style="normal" fill="#111111" stroke="#111111" stroke-width="0.15" >72</text>
<text x="537" y="580.7" font-size="11" font-weight="normal" font-style="normal" fill="#111111" stroke="#111111" stroke-width="0.15" >40</text>
<text x="598.3" y="580.7" font-size="11" font-weight="normal" font-style="normal" fill="#111111" stroke="#111111" stroke-width="0.15" >20</text>
<text x="656.6" y="580.7" font-size="11" font-weight="normal" font-style="normal" fill="#111111" stroke="#111111" stroke-width="0.15" >0</text>
<text x="420.4" y="591.1" font-size="11" font-weight="normal" font-style="normal" fill="#111111" stroke="#111111" stroke-width="0.15" >50</text>
<text x="477.35" y="591.1" font-size="11" font-weight="normal" font-style="normal" fill="#111111" stroke="#111111" stroke-width="0.15" >29</text>
<path transform="translate(537,591.1) scale(0.005371,-0.005371)" d="M600 0L600 1237L282 1010L282 1180L615 1409L781 1409L781 0Z" fill="#111111" stroke="#111111" stroke-width="27.9"/>
<text x="537" y="591.1" font-size="11" font-weight="normal" font-style="normal" fill="#111111" stroke="#111111" stroke-width="0.15" > 8</text>
<text x="598.3" y="591.1" font-size="11" font-weight="normal" font-style="normal" fill="#111111" stroke="#111111" stroke-width="0.15" >3</text>
<text x="656.6" y="591.1" font-size="11" font-weight="normal" font-style="normal" fill="#111111" stroke="#111111" stroke-width="0.15" >0</text>
<path transform="translate(426.52,601.5) scale(0.005371,-0.005371)" d="M600 0L600 1237L282 1010L282 1180L615 1409L781 1409L781 0Z" fill="#111111" stroke="#111111" stroke-width="27.9"/>
<text x="420.4" y="601.5" font-size="11" font-weight="normal" font-style="normal" fill="#111111" stroke="#111111" stroke-width="0.15" >5 </text>
<text x="477.35" y="601.5" font-size="11" font-weight="normal" font-style="normal" fill="#111111" stroke="#111111" stroke-width="0.15" >7</text>
<text x="537" y="601.5" font-size="11" font-weight="normal" font-style="normal" fill="#111111" stroke="#111111" stroke-width="0.15" >0</text>
<text x="598.3" y="601.5" font-size="11" font-weight="normal" font-style="normal" fill="#111111" stroke="#111111" stroke-width="0.15" >0</text>
<text x="656.6" y="601.5" font-size="11" font-weight="normal" font-style="normal" fill="#111111" stroke="#111111" stroke-width="0.15" >0</text>
<path d="M423.1 323 H431.1 V327.4 H435.2 V329.3 H437.7 V331.4 H440.6 V333.7 H446.5 V336.2 H449.4 V338.4 H464.7 V342.7 H472 V344.9 H476.4 V349.7 H487 V351.5 H499.8 V353.3 H503.8 V356.8 H534.3 V359.2 H536.5 V360.7 H547.8 V364.4 H556.2 V368.7 H576.3 V373.5 H655.6" fill="none" stroke="#4a8bcb" stroke-width="1.6" stroke-linejoin="miter" stroke-linecap="butt"/>
<path d="M450.4 335.7V341.1M447.7 338.4H453.1M458.6 335.7V341.1M455.9 338.4H461.3M486.6 347V352.4M483.9 349.7H489.3M487.8 348.8V354.2M485.1 351.5H490.5M491 348.8V354.2M488.3 351.5H493.7M495.4 348.8V354.2M492.7 351.5H498.1M509.5 354.1V359.5M506.8 356.8H512.2M513.1 354.1V359.5M510.4 356.8H515.8M514.6 354.1V359.5M511.9 356.8H517.3M516.1 354.1V359.5M513.4 356.8H518.8M517.5 354.1V359.5M514.8 356.8H520.2M519 354.1V359.5M516.3 356.8H521.7M521.2 354.1V359.5M518.5 356.8H523.9M521.9 354.1V359.5M519.2 356.8H524.6M522.6 354.1V359.5M519.9 356.8H525.3M527.7 354.1V359.5M525 356.8H530.4M529.2 354.1V359.5M526.5 356.8H531.9M529.9 354.1V359.5M527.2 356.8H532.6M537.2 358V363.4M534.5 360.7H539.9M541.6 358V363.4M538.9 360.7H544.3M543.1 358V363.4M540.4 360.7H545.8M545.3 358V363.4M542.6 360.7H548M546.4 358V363.4M543.7 360.7H549.1M550.4 361.7V367.1M547.7 364.4H553.1M556.6 366V371.4M553.9 368.7H559.3M559.9 366V371.4M557.2 368.7H562.6M562 366V371.4M559.3 368.7H564.7M564.2 366V371.4M561.5 368.7H566.9M566.4 366V371.4M563.7 368.7H569.1M581.5 370.8V376.2M578.8 373.5H584.2M582.9 370.8V376.2M580.2 373.5H585.6M588.5 370.8V376.2M585.8 373.5H591.2M595.3 370.8V376.2M592.6 373.5H598M599 370.8V376.2M596.3 373.5H601.7M606.6 370.8V376.2M603.9 373.5H609.3M608 370.8V376.2M605.3 373.5H610.7M624.5 370.8V376.2M621.8 373.5H627.2M626 370.8V376.2M623.3 373.5H628.7M628.9 370.8V376.2M626.2 373.5H631.6M632.6 370.8V376.2M629.9 373.5H635.3M634.3 370.8V376.2M631.6 373.5H637M637.7 370.8V376.2M635 373.5H640.4M639.1 370.8V376.2M636.4 373.5H641.8M640.6 370.8V376.2M637.9 373.5H643.3M642 370.8V376.2M639.3 373.5H644.7M647.2 370.8V376.2M644.5 373.5H649.9M648.6 370.8V376.2M645.9 373.5H651.3M651.5 370.8V376.2M648.8 373.5H654.2M653 370.8V376.2M650.3 373.5H655.7" fill="none" stroke="#4a8bcb" stroke-width="1.0"/>
<path d="M423.1 323 H423.8 V327 H424.5 V332 H425.3 V336.9 H426.5 V341 H428.2 V345.7 H429.3 V349 H430.4 V353 H431.2 V357 H431.9 V361 H437.1 V368.6 H439.5 V372.9 H441.6 V377.2 H443.8 V379.9 H446.5 V383.6 H461.5 V387.4 H466.9 V394.9 H477 V399.5 H478.8 V401.9 H486.4 V406.3 H495.2 V410.2 H496.5 V413.9 H509.2 V418.3 H514 V422.7 H550 V427.9 H625.7" fill="none" stroke="#189db5" stroke-width="1.6" stroke-linejoin="miter" stroke-linecap="butt"/>
<path d="M498.5 411.2V416.6M495.8 413.9H501.2M502.5 411.2V416.6M499.8 413.9H505.2M504 411.2V416.6M501.3 413.9H506.7M505.5 411.2V416.6M502.8 413.9H508.2M507.2 411.2V416.6M504.5 413.9H509.9M514.9 420V425.4M512.2 422.7H517.6M528.7 420V425.4M526 422.7H531.4M551 425.2V430.6M548.3 427.9H553.7M552.8 425.2V430.6M550.1 427.9H555.5M555 425.2V430.6M552.3 427.9H557.7M560.9 425.2V430.6M558.2 427.9H563.6M563.7 425.2V430.6M561 427.9H566.4M565.2 425.2V430.6M562.5 427.9H567.9M566.3 425.2V430.6M563.6 427.9H569M570.3 425.2V430.6M567.6 427.9H573M572.5 425.2V430.6M569.8 427.9H575.2M581.5 425.2V430.6M578.8 427.9H584.2M586.9 425.2V430.6M584.2 427.9H589.6M590 425.2V430.6M587.3 427.9H592.7M593.8 425.2V430.6M591.1 427.9H596.5M595 425.2V430.6M592.3 427.9H597.7M598.4 425.2V430.6M595.7 427.9H601.1M608.4 425.2V430.6M605.7 427.9H611.1M615 425.2V430.6M612.3 427.9H617.7M624.5 425.2V430.6M621.8 427.9H627.2" fill="none" stroke="#189db5" stroke-width="1.0"/>
<path d="M423.1 323 H423.6 V329 H424.3 V340 H424.9 V350 H425.5 V360 H426.1 V366 H426.6 V370.7 H427.3 V378 H428 V385 H428.7 V392.2 H429.5 V402 H430.4 V411.6 H431.4 V413.7 H432.2 V420 H433 V426.6 H433.8 V431 H434.6 V435.2 H435.7 V438.4 H436.8 V445.9 H440.4 V449.4 H444.2 V459 H444.6 V467.7 H451.9 V471.4 H456.6 V475.8 H459.9 V479.4 H462.1 V486.7 H488.4 V490.4 H508.7 V494.1 H517.5 V497.6 H518.6 V501.2 H523.9 V507.3 H531.1 V512.9" fill="none" stroke="#b0123f" stroke-width="1.6" stroke-linejoin="miter" stroke-linecap="butt"/>
<path d="M519.8 498.5V503.9M517.1 501.2H522.5" fill="none" stroke="#b0123f" stroke-width="1.0"/>
<text x="-0.07" y="639.7" font-size="14.5" font-weight="bold" font-style="normal" fill="#231f20" stroke="#231f20" stroke-width="0.15" >e</text>
<line x1="61.2" y1="645.4" x2="61.2" y2="835.4" stroke="#231f20" stroke-width="1.3"/>
<line x1="57.5" y1="645.4" x2="61.2" y2="645.4" stroke="#231f20" stroke-width="1.3"/>
<path transform="translate(31.98,649.9) scale(0.005371,-0.005371)" d="M600 0L600 1237L282 1010L282 1180L615 1409L781 1409L781 0Z" fill="#111111" stroke="#111111" stroke-width="27.9"/>
<text x="31.98" y="649.9" font-size="11" font-weight="normal" font-style="normal" fill="#111111" stroke="#111111" stroke-width="0.15" > 00</text>
<line x1="57.5" y1="693.2" x2="61.2" y2="693.2" stroke="#231f20" stroke-width="1.3"/>
<text x="39.23" y="697.7" font-size="11" font-weight="normal" font-style="normal" fill="#111111" stroke="#111111" stroke-width="0.15" >75</text>
<line x1="57.5" y1="740.5" x2="61.2" y2="740.5" stroke="#231f20" stroke-width="1.3"/>
<text x="39.19" y="745" font-size="11" font-weight="normal" font-style="normal" fill="#111111" stroke="#111111" stroke-width="0.15" >50</text>
<line x1="57.5" y1="787.8" x2="61.2" y2="787.8" stroke="#231f20" stroke-width="1.3"/>
<text x="39.43" y="792.3" font-size="11" font-weight="normal" font-style="normal" fill="#111111" stroke="#111111" stroke-width="0.15" >25</text>
<line x1="57.5" y1="835.4" x2="61.2" y2="835.4" stroke="#231f20" stroke-width="1.3"/>
<text x="47.61" y="839.9" font-size="11" font-weight="normal" font-style="normal" fill="#111111" stroke="#111111" stroke-width="0.15" >0</text>
<text transform="translate(29.7,754.4) rotate(-90)" x="-18.53" y="0" font-size="11" fill="#111111" stroke="#111111" stroke-width="0.15" letter-spacing="0.2">OS (%)</text>
<line x1="73.3" y1="844.7" x2="328.2" y2="844.7" stroke="#231f20" stroke-width="1.3"/>
<line x1="73.3" y1="844.7" x2="73.3" y2="848.3" stroke="#231f20" stroke-width="1.3"/>
<line x1="133.1" y1="844.7" x2="133.1" y2="848.3" stroke="#231f20" stroke-width="1.3"/>
<line x1="192.8" y1="844.7" x2="192.8" y2="848.3" stroke="#231f20" stroke-width="1.3"/>
<line x1="252.7" y1="844.7" x2="252.7" y2="848.3" stroke="#231f20" stroke-width="1.3"/>
<line x1="312.1" y1="844.7" x2="312.1" y2="848.3" stroke="#231f20" stroke-width="1.3"/>
<text x="70.2" y="860.9" font-size="11" font-weight="normal" font-style="normal" fill="#111111" stroke="#111111" stroke-width="0.15" >0</text>
<text x="127.6" y="860.9" font-size="11" font-weight="normal" font-style="normal" fill="#111111" stroke="#111111" stroke-width="0.15" >24</text>
<text x="188.6" y="860.9" font-size="11" font-weight="normal" font-style="normal" fill="#111111" stroke="#111111" stroke-width="0.15" >48</text>
<text x="247.15" y="860.9" font-size="11" font-weight="normal" font-style="normal" fill="#111111" stroke="#111111" stroke-width="0.15" >72</text>
<text x="308.45" y="860.9" font-size="11" font-weight="normal" font-style="normal" fill="#111111" stroke="#111111" stroke-width="0.15" >90</text>
<text x="179" y="875" font-size="11" font-weight="normal" font-style="normal" fill="#111111" stroke="#111111" stroke-width="0.15" letter-spacing="0.2" >Months</text>
<text x="77.56" y="829.2" font-size="11" fill="#111111" stroke="#111111" stroke-width="0.15" letter-spacing="0.12"><tspan font-style="italic">P</tspan> &lt; 0.00 </text>
<path transform="translate(119.8,829.2) scale(0.005371,-0.005371)" d="M600 0L600 1237L282 1010L282 1180L615 1409L781 1409L781 0Z" fill="#111111" stroke="#111111" stroke-width="27.9"/>
<text x="242.56" y="782.8" font-size="11" font-weight="bold" font-style="normal" fill="#111111" stroke="#111111" stroke-width="0.15" letter-spacing="0.12" >External validation 2</text>
<text x="242.4" y="797.2" font-size="11" font-weight="normal" font-style="normal" fill="#4a8bcb" stroke="#4a8bcb" stroke-width="0.15" letter-spacing="0.1" >Low</text>
<text x="242.28" y="810.7" font-size="11" font-weight="normal" font-style="normal" fill="#189db5" stroke="#189db5" stroke-width="0.15" letter-spacing="0.1" >Intermediate</text>
<text x="242.4" y="824.1" font-size="11" font-weight="normal" font-style="normal" fill="#b0123f" stroke="#b0123f" stroke-width="0.15" letter-spacing="0.1" >High</text>
<text x="13.8" y="890.2" font-size="11" font-weight="normal" font-style="normal" fill="#111111" stroke="#111111" stroke-width="0.15" letter-spacing="0.2" >No. at risk:</text>
<line x1="41.9" y1="906" x2="52.7" y2="906" stroke="#4a8bcb" stroke-width="1.4"/>
<line x1="41.9" y1="916.2" x2="52.7" y2="916.2" stroke="#189db5" stroke-width="1.4"/>
<line x1="41.9" y1="926.4" x2="52.7" y2="926.4" stroke="#b0123f" stroke-width="1.4"/>
<text x="70.2" y="909.8" font-size="11" font-weight="normal" font-style="normal" fill="#111111" stroke="#111111" stroke-width="0.15" >57</text>
<text x="127.6" y="909.8" font-size="11" font-weight="normal" font-style="normal" fill="#111111" stroke="#111111" stroke-width="0.15" >36</text>
<text x="188.6" y="909.8" font-size="11" font-weight="normal" font-style="normal" fill="#111111" stroke="#111111" stroke-width="0.15" >24</text>
<text x="247.15" y="909.8" font-size="11" font-weight="normal" font-style="normal" fill="#111111" stroke="#111111" stroke-width="0.15" >8</text>
<text x="308.45" y="909.8" font-size="11" font-weight="normal" font-style="normal" fill="#111111" stroke="#111111" stroke-width="0.15" >4</text>
<text x="70.2" y="919.9" font-size="11" font-weight="normal" font-style="normal" fill="#111111" stroke="#111111" stroke-width="0.15" >50</text>
<text x="127.6" y="919.9" font-size="11" font-weight="normal" font-style="normal" fill="#111111" stroke="#111111" stroke-width="0.15" >30</text>
<path transform="translate(188.6,919.9) scale(0.005371,-0.005371)" d="M600 0L600 1237L282 1010L282 1180L615 1409L781 1409L781 0Z" fill="#111111" stroke="#111111" stroke-width="27.9"/>
<text x="188.6" y="919.9" font-size="11" font-weight="normal" font-style="normal" fill="#111111" stroke="#111111" stroke-width="0.15" > 5</text>
<text x="247.15" y="919.9" font-size="11" font-weight="normal" font-style="normal" fill="#111111" stroke="#111111" stroke-width="0.15" >3</text>
<path transform="translate(308.45,919.9) scale(0.005371,-0.005371)" d="M600 0L600 1237L282 1010L282 1180L615 1409L781 1409L781 0Z" fill="#111111" stroke="#111111" stroke-width="27.9"/>
<text x="308.45" y="919.9" font-size="11" font-weight="normal" font-style="normal" fill="#111111" stroke="#111111" stroke-width="0.15" > </text>
<text x="70.2" y="930" font-size="11" font-weight="normal" font-style="normal" fill="#111111" stroke="#111111" stroke-width="0.15" >39</text>
<path transform="translate(127.6,930) scale(0.005371,-0.005371)" d="M600 0L600 1237L282 1010L282 1180L615 1409L781 1409L781 0Z" fill="#111111" stroke="#111111" stroke-width="27.9"/>
<path transform="translate(133.72,930) scale(0.005371,-0.005371)" d="M600 0L600 1237L282 1010L282 1180L615 1409L781 1409L781 0Z" fill="#111111" stroke="#111111" stroke-width="27.9"/>
<text x="127.6" y="930" font-size="11" font-weight="normal" font-style="normal" fill="#111111" stroke="#111111" stroke-width="0.15" >  </text>
<text x="188.6" y="930" font-size="11" font-weight="normal" font-style="normal" fill="#111111" stroke="#111111" stroke-width="0.15" >4</text>
<text x="247.15" y="930" font-size="11" font-weight="normal" font-style="normal" fill="#111111" stroke="#111111" stroke-width="0.15" >3</text>
<path transform="translate(308.45,930) scale(0.005371,-0.005371)" d="M600 0L600 1237L282 1010L282 1180L615 1409L781 1409L781 0Z" fill="#111111" stroke="#111111" stroke-width="27.9"/>
<text x="308.45" y="930" font-size="11" font-weight="normal" font-style="normal" fill="#111111" stroke="#111111" stroke-width="0.15" > </text>
<path d="M73.8 645.4 H104.5 V648.9 H327.3" fill="none" stroke="#4a8bcb" stroke-width="1.6" stroke-linejoin="miter" stroke-linecap="butt"/>
<path d="M105.2 646.2V651.6M102.5 648.9H107.9M106.7 646.2V651.6M104 648.9H109.4M108.1 646.2V651.6M105.4 648.9H110.8M109.6 646.2V651.6M106.9 648.9H112.3M111.1 646.2V651.6M108.4 648.9H113.8M112.5 646.2V651.6M109.8 648.9H115.2M114 646.2V651.6M111.3 648.9H116.7M115.4 646.2V651.6M112.7 648.9H118.1M116.9 646.2V651.6M114.2 648.9H119.6M123.5 646.2V651.6M120.8 648.9H126.2M124.9 646.2V651.6M122.2 648.9H127.6M126.4 646.2V651.6M123.7 648.9H129.1M127.9 646.2V651.6M125.2 648.9H130.6M129.3 646.2V651.6M126.6 648.9H132M130.8 646.2V651.6M128.1 648.9H133.5M132.2 646.2V651.6M129.5 648.9H134.9M139.5 646.2V651.6M136.8 648.9H142.2M141 646.2V651.6M138.3 648.9H143.7M148.3 646.2V651.6M145.6 648.9H151M149.8 646.2V651.6M147.1 648.9H152.5M159.2 646.2V651.6M156.5 648.9H161.9M160.7 646.2V651.6M158 648.9H163.4M161.3 646.2V651.6M158.6 648.9H164M163.8 646.2V651.6M161.1 648.9H166.5M166.4 646.2V651.6M163.7 648.9H169.1M167.3 646.2V651.6M164.6 648.9H170M168.9 646.2V651.6M166.2 648.9H171.6M170.7 646.2V651.6M168 648.9H173.4M195.8 646.2V651.6M193.1 648.9H198.5M197.8 646.2V651.6M195.1 648.9H200.5M199.6 646.2V651.6M196.9 648.9H202.3M201.4 646.2V651.6M198.7 648.9H204.1M210.6 646.2V651.6M207.9 648.9H213.3M217.5 646.2V651.6M214.8 648.9H220.2M222.6 646.2V651.6M219.9 648.9H225.3M226.4 646.2V651.6M223.7 648.9H229.1M231.5 646.2V651.6M228.8 648.9H234.2M234.1 646.2V651.6M231.4 648.9H236.8M245.6 646.2V651.6M242.9 648.9H248.3M248.1 646.2V651.6M245.4 648.9H250.8M250.7 646.2V651.6M248 648.9H253.4M255.8 646.2V651.6M253.1 648.9H258.5M258.4 646.2V651.6M255.7 648.9H261.1M291.6 646.2V651.6M288.9 648.9H294.3M300 646.2V651.6M297.3 648.9H302.7M323.5 646.2V651.6M320.8 648.9H326.2M325.6 646.2V651.6M322.9 648.9H328.3" fill="none" stroke="#4a8bcb" stroke-width="1.0"/>
<path d="M73.8 645.4 H104.4 V649.6 H111.5 V654.8 H175.3 V664.8 H226.9 V680.1 H244.3 V702.1 H318.4" fill="none" stroke="#189db5" stroke-width="1.6" stroke-linejoin="miter" stroke-linecap="butt"/>
<path d="M88.4 642.7V648.1M85.7 645.4H91.1M89.9 642.7V648.1M87.2 645.4H92.6M90.7 642.7V648.1M88 645.4H93.4M92.9 642.7V648.1M90.2 645.4H95.6M97.2 642.7V648.1M94.5 645.4H99.9M97.7 642.7V648.1M95 645.4H100.4M99.1 642.7V648.1M96.4 645.4H101.8M103.1 642.7V648.1M100.4 645.4H105.8M114.7 652.1V657.5M112 654.8H117.4M118.4 652.1V657.5M115.7 654.8H121.1M127.1 652.1V657.5M124.4 654.8H129.8M127.9 652.1V657.5M125.2 654.8H130.6M142.5 652.1V657.5M139.8 654.8H145.2M144.6 652.1V657.5M141.9 654.8H147.3M154.9 652.1V657.5M152.2 654.8H157.6M156.3 652.1V657.5M153.6 654.8H159M161.3 652.1V657.5M158.6 654.8H164M163.6 652.1V657.5M160.9 654.8H166.3M165.1 652.1V657.5M162.4 654.8H167.8M167.2 652.1V657.5M164.5 654.8H169.9M168.9 652.1V657.5M166.2 654.8H171.6M170.7 652.1V657.5M168 654.8H173.4M183 662.1V667.5M180.3 664.8H185.7M188.1 662.1V667.5M185.4 664.8H190.8M193.2 662.1V667.5M190.5 664.8H195.9M195.8 662.1V667.5M193.1 664.8H198.5M197.8 662.1V667.5M195.1 664.8H200.5M213.1 662.1V667.5M210.4 664.8H215.8M237.2 677.4V682.8M234.5 680.1H239.9M240.5 677.4V682.8M237.8 680.1H243.2M243 677.4V682.8M240.3 680.1H245.7M246.9 699.4V704.8M244.2 702.1H249.6M250.7 699.4V704.8M248 702.1H253.4M260.9 699.4V704.8M258.2 702.1H263.6M292.3 699.4V704.8M289.6 702.1H295M317.9 699.4V704.8M315.2 702.1H320.6" fill="none" stroke="#189db5" stroke-width="1.0"/>
<path d="M73.8 645.3 H75 V649 H78.2 V651.9 H79.7 V655.5 H81.9 V660.6 H83.8 V665 H87 V670.1 H88.4 V674.5 H105.2 V681.1 H106.5 V686.9 H119.4 V695.8 H120.5 V704.2 H126.4 V713.4 H161.4 V727.2 H163.9 V740.6 H318.4" fill="none" stroke="#b0123f" stroke-width="1.6" stroke-linejoin="miter" stroke-linecap="butt"/>
<path d="M89.9 671.8V677.2M87.2 674.5H92.6M91.4 671.8V677.2M88.7 674.5H94.1M92.5 671.8V677.2M89.8 674.5H95.2M93.5 671.8V677.2M90.8 674.5H96.2M97.2 671.8V677.2M94.5 674.5H99.9M102.3 671.8V677.2M99.6 674.5H105M107.4 684.2V689.6M104.7 686.9H110.1M113.3 684.2V689.6M110.6 686.9H116M114.7 684.2V689.6M112 686.9H117.4M118.4 684.2V689.6M115.7 686.9H121.1M119.8 693.1V698.5M117.1 695.8H122.5M124.5 701.5V706.9M121.8 704.2H127.2M130.3 710.7V716.1M127.6 713.4H133M132.2 710.7V716.1M129.5 713.4H134.9M152.2 710.7V716.1M149.5 713.4H154.9M168.9 737.9V743.3M166.2 740.6H171.6M169.7 737.9V743.3M167 740.6H172.4M235.4 737.9V743.3M232.7 740.6H238.1M264.2 737.9V743.3M261.5 740.6H266.9M271.7 737.9V743.3M269 740.6H274.4M317.9 737.9V743.3M315.2 740.6H320.6" fill="none" stroke="#b0123f" stroke-width="1.0"/>
<text x="357.85" y="639.7" font-size="14.5" font-weight="bold" font-style="normal" fill="#231f20" stroke="#231f20" stroke-width="0.15" >f</text>
<line x1="410.4" y1="645.4" x2="410.4" y2="835.1" stroke="#231f20" stroke-width="1.3"/>
<line x1="406.7" y1="645.4" x2="410.4" y2="645.4" stroke="#231f20" stroke-width="1.3"/>
<path transform="translate(380.78,649.9) scale(0.005371,-0.005371)" d="M600 0L600 1237L282 1010L282 1180L615 1409L781 1409L781 0Z" fill="#111111" stroke="#111111" stroke-width="27.9"/>
<text x="380.78" y="649.9" font-size="11" font-weight="normal" font-style="normal" fill="#111111" stroke="#111111" stroke-width="0.15" > 00</text>
<line x1="406.7" y1="693.1" x2="410.4" y2="693.1" stroke="#231f20" stroke-width="1.3"/>
<text x="389.13" y="697.6" font-size="11" font-weight="normal" font-style="normal" fill="#111111" stroke="#111111" stroke-width="0.15" >75</text>
<line x1="406.7" y1="740.3" x2="410.4" y2="740.3" stroke="#231f20" stroke-width="1.3"/>
<text x="389.09" y="744.8" font-size="11" font-weight="normal" font-style="normal" fill="#111111" stroke="#111111" stroke-width="0.15" >50</text>
<line x1="406.7" y1="787.8" x2="410.4" y2="787.8" stroke="#231f20" stroke-width="1.3"/>
<text x="389.13" y="792.3" font-size="11" font-weight="normal" font-style="normal" fill="#111111" stroke="#111111" stroke-width="0.15" >25</text>
<line x1="406.7" y1="835.1" x2="410.4" y2="835.1" stroke="#231f20" stroke-width="1.3"/>
<text x="397.61" y="839.6" font-size="11" font-weight="normal" font-style="normal" fill="#111111" stroke="#111111" stroke-width="0.15" >0</text>
<text transform="translate(382.1,751) rotate(-90)" x="-21.38" y="0" font-size="11" fill="#111111" stroke="#111111" stroke-width="0.15" letter-spacing="0.2">PFS (%)</text>
<line x1="423.2" y1="845" x2="677.8" y2="845" stroke="#231f20" stroke-width="1.3"/>
<line x1="423.2" y1="845" x2="423.2" y2="848.6" stroke="#231f20" stroke-width="1.3"/>
<line x1="483.1" y1="845" x2="483.1" y2="848.6" stroke="#231f20" stroke-width="1.3"/>
<line x1="542.4" y1="845" x2="542.4" y2="848.6" stroke="#231f20" stroke-width="1.3"/>
<line x1="602.6" y1="845" x2="602.6" y2="848.6" stroke="#231f20" stroke-width="1.3"/>
<line x1="662.1" y1="845" x2="662.1" y2="848.6" stroke="#231f20" stroke-width="1.3"/>
<text x="420.4" y="860.8" font-size="11" font-weight="normal" font-style="normal" fill="#111111" stroke="#111111" stroke-width="0.15" >0</text>
<text x="477.2" y="860.8" font-size="11" font-weight="normal" font-style="normal" fill="#111111" stroke="#111111" stroke-width="0.15" >24</text>
<text x="536.8" y="860.8" font-size="11" font-weight="normal" font-style="normal" fill="#111111" stroke="#111111" stroke-width="0.15" >48</text>
<text x="598.2" y="860.8" font-size="11" font-weight="normal" font-style="normal" fill="#111111" stroke="#111111" stroke-width="0.15" >72</text>
<text x="656.1" y="860.8" font-size="11" font-weight="normal" font-style="normal" fill="#111111" stroke="#111111" stroke-width="0.15" >90</text>
<text x="528.4" y="875" font-size="11" font-weight="normal" font-style="normal" fill="#111111" stroke="#111111" stroke-width="0.15" letter-spacing="0.2" >Months</text>
<text x="424.76" y="829.2" font-size="11" fill="#111111" stroke="#111111" stroke-width="0.15" letter-spacing="0.12"><tspan font-style="italic">P</tspan> &lt; 0.00 </text>
<path transform="translate(467,829.2) scale(0.005371,-0.005371)" d="M600 0L600 1237L282 1010L282 1180L615 1409L781 1409L781 0Z" fill="#111111" stroke="#111111" stroke-width="27.9"/>
<text x="487.56" y="783.1" font-size="11" font-weight="bold" font-style="normal" fill="#111111" stroke="#111111" stroke-width="0.15" letter-spacing="0.12" >External validation 2</text>
<text x="487.4" y="797.7" font-size="11" font-weight="normal" font-style="normal" fill="#4a8bcb" stroke="#4a8bcb" stroke-width="0.15" letter-spacing="0.1" >Low</text>
<text x="487.28" y="810.6" font-size="11" font-weight="normal" font-style="normal" fill="#189db5" stroke="#189db5" stroke-width="0.15" letter-spacing="0.1" >Intermediate</text>
<text x="487.4" y="824.3" font-size="11" font-weight="normal" font-style="normal" fill="#b0123f" stroke="#b0123f" stroke-width="0.15" letter-spacing="0.1" >High</text>
<text x="359.7" y="890.2" font-size="11" font-weight="normal" font-style="normal" fill="#111111" stroke="#111111" stroke-width="0.15" letter-spacing="0.2" >No. at risk:</text>
<line x1="392.5" y1="906" x2="403.1" y2="906" stroke="#4a8bcb" stroke-width="1.4"/>
<line x1="392.5" y1="916.2" x2="403.1" y2="916.2" stroke="#189db5" stroke-width="1.4"/>
<line x1="392.5" y1="926.4" x2="403.1" y2="926.4" stroke="#b0123f" stroke-width="1.4"/>
<text x="420.4" y="909.8" font-size="11" font-weight="normal" font-style="normal" fill="#111111" stroke="#111111" stroke-width="0.15" >57</text>
<text x="477.2" y="909.8" font-size="11" font-weight="normal" font-style="normal" fill="#111111" stroke="#111111" stroke-width="0.15" >36</text>
<text x="536.8" y="909.8" font-size="11" font-weight="normal" font-style="normal" fill="#111111" stroke="#111111" stroke-width="0.15" >24</text>
<text x="598.2" y="909.8" font-size="11" font-weight="normal" font-style="normal" fill="#111111" stroke="#111111" stroke-width="0.15" >8</text>
<text x="656.1" y="909.8" font-size="11" font-weight="normal" font-style="normal" fill="#111111" stroke="#111111" stroke-width="0.15" >4</text>
<text x="420.4" y="919.9" font-size="11" font-weight="normal" font-style="normal" fill="#111111" stroke="#111111" stroke-width="0.15" >50</text>
<text x="477.2" y="919.9" font-size="11" font-weight="normal" font-style="normal" fill="#111111" stroke="#111111" stroke-width="0.15" >28</text>
<path transform="translate(536.8,919.9) scale(0.005371,-0.005371)" d="M600 0L600 1237L282 1010L282 1180L615 1409L781 1409L781 0Z" fill="#111111" stroke="#111111" stroke-width="27.9"/>
<text x="536.8" y="919.9" font-size="11" font-weight="normal" font-style="normal" fill="#111111" stroke="#111111" stroke-width="0.15" > 5</text>
<text x="598.2" y="919.9" font-size="11" font-weight="normal" font-style="normal" fill="#111111" stroke="#111111" stroke-width="0.15" >2</text>
<path transform="translate(656.1,919.9) scale(0.005371,-0.005371)" d="M600 0L600 1237L282 1010L282 1180L615 1409L781 1409L781 0Z" fill="#111111" stroke="#111111" stroke-width="27.9"/>
<text x="656.1" y="919.9" font-size="11" font-weight="normal" font-style="normal" fill="#111111" stroke="#111111" stroke-width="0.15" > </text>
<text x="420.4" y="930" font-size="11" font-weight="normal" font-style="normal" fill="#111111" stroke="#111111" stroke-width="0.15" >39</text>
<path transform="translate(477.2,930) scale(0.005371,-0.005371)" d="M600 0L600 1237L282 1010L282 1180L615 1409L781 1409L781 0Z" fill="#111111" stroke="#111111" stroke-width="27.9"/>
<path transform="translate(483.32,930) scale(0.005371,-0.005371)" d="M600 0L600 1237L282 1010L282 1180L615 1409L781 1409L781 0Z" fill="#111111" stroke="#111111" stroke-width="27.9"/>
<text x="477.2" y="930" font-size="11" font-weight="normal" font-style="normal" fill="#111111" stroke="#111111" stroke-width="0.15" >  </text>
<text x="536.8" y="930" font-size="11" font-weight="normal" font-style="normal" fill="#111111" stroke="#111111" stroke-width="0.15" >4</text>
<text x="598.2" y="930" font-size="11" font-weight="normal" font-style="normal" fill="#111111" stroke="#111111" stroke-width="0.15" >3</text>
<path transform="translate(656.1,930) scale(0.005371,-0.005371)" d="M600 0L600 1237L282 1010L282 1180L615 1409L781 1409L781 0Z" fill="#111111" stroke="#111111" stroke-width="27.9"/>
<text x="656.1" y="930" font-size="11" font-weight="normal" font-style="normal" fill="#111111" stroke="#111111" stroke-width="0.15" > </text>
<path d="M423.2 645.5 H433.2 V648.7 H448.4 V652.1 H451.4 V655.2 H453.7 V659 H499 V664.8 H685" fill="none" stroke="#4a8bcb" stroke-width="1.6" stroke-linejoin="miter" stroke-linecap="butt"/>
<path d="M439.9 646V651.4M437.2 648.7H442.6M446.5 646V651.4M443.8 648.7H449.2M460.5 656.3V661.7M457.8 659H463.2M463.6 656.3V661.7M460.9 659H466.3M464.3 656.3V661.7M461.6 659H467M465.1 656.3V661.7M462.4 659H467.8M466.6 656.3V661.7M463.9 659H469.3M472.7 656.3V661.7M470 659H475.4M474.2 656.3V661.7M471.5 659H476.9M475.7 656.3V661.7M473 659H478.4M476.4 656.3V661.7M473.7 659H479.1M477.9 656.3V661.7M475.2 659H480.6M479.3 656.3V661.7M476.6 659H482M487.3 656.3V661.7M484.6 659H490M490.3 656.3V661.7M487.6 659H493M498.3 656.3V661.7M495.6 659H501M502 662.1V667.5M499.3 664.8H504.7M508.5 662.1V667.5M505.8 664.8H511.2M512.2 662.1V667.5M509.5 664.8H514.9M515.6 662.1V667.5M512.9 664.8H518.3M518.5 662.1V667.5M515.8 664.8H521.2M545.5 662.1V667.5M542.8 664.8H548.2M548.4 662.1V667.5M545.7 664.8H551.1M550.3 662.1V667.5M547.6 664.8H553M559.7 662.1V667.5M557 664.8H562.4M567.4 662.1V667.5M564.7 664.8H570.1M572 662.1V667.5M569.3 664.8H574.7M575.4 662.1V667.5M572.7 664.8H578.1M581.7 662.1V667.5M579 664.8H584.4M583.4 662.1V667.5M580.7 664.8H586.1M595.9 662.1V667.5M593.2 664.8H598.6M598.7 662.1V667.5M596 664.8H601.4M601.6 662.1V667.5M598.9 664.8H604.3M605.3 662.1V667.5M602.6 664.8H608M608.1 662.1V667.5M605.4 664.8H610.8M640.9 662.1V667.5M638.2 664.8H643.6M649.4 662.1V667.5M646.7 664.8H652.1M672.7 662.1V667.5M670 664.8H675.4M674.5 662.1V667.5M671.8 664.8H677.2M678.4 662.1V667.5M675.7 664.8H681.1" fill="none" stroke="#4a8bcb" stroke-width="1.0"/>
<path d="M423.2 645.5 H449.1 V649.9 H453.7 V654.4 H480.8 V666.5 H498.2 V673.2 H525 V682.7 H545.5 V693.3 H566.9 V707.8 H576.3 V721.7 H667.9" fill="none" stroke="#189db5" stroke-width="1.6" stroke-linejoin="miter" stroke-linecap="butt"/>
<path d="M437.7 642.8V648.2M435 645.5H440.4M439.2 642.8V648.2M436.5 645.5H441.9M440.6 642.8V648.2M437.9 645.5H443.3M442 642.8V648.2M439.3 645.5H444.7M443 642.8V648.2M440.3 645.5H445.7M446.5 642.8V648.2M443.8 645.5H449.2M465.5 651.7V657.1M462.8 654.4H468.2M468.1 651.7V657.1M465.4 654.4H470.8M476.4 651.7V657.1M473.7 654.4H479.1M477.1 651.7V657.1M474.4 654.4H479.8M491 663.8V669.2M488.3 666.5H493.7M494 663.8V669.2M491.3 666.5H496.7M504.2 670.5V675.9M501.5 673.2H506.9M507.1 670.5V675.9M504.4 673.2H509.8M514.2 670.5V675.9M511.5 673.2H516.9M517 670.5V675.9M514.3 673.2H519.7M538.4 680V685.4M535.7 682.7H541.1M542.7 680V685.4M540 682.7H545.4M545.5 690.6V696M542.8 693.3H548.2M548.4 690.6V696M545.7 693.3H551.1M562.6 690.6V696M559.9 693.3H565.3M586.8 719V724.4M584.1 721.7H589.5M589.6 719V724.4M586.9 721.7H592.3M593 719V724.4M590.3 721.7H595.7M596.7 719V724.4M594 721.7H599.4M599.6 719V724.4M596.9 721.7H602.3M610.1 719V724.4M607.4 721.7H612.8M667 719V724.4M664.3 721.7H669.7" fill="none" stroke="#189db5" stroke-width="1.0"/>
<path d="M421.4 645.5 H427.9 V650.6 H430.1 V655.6 H433.2 V660.5 H433.6 V665.4 H437 V670.4 H437.9 V675.3 H448.4 V681.4 H455.2 V687.5 H456.7 V693.5 H465.1 V700.2 H468.7 V709 H469.9 V717 H475.3 V726.2 H487.7 V737.1 H510 V749.5 H621.5 V791.8 H667" fill="none" stroke="#b0123f" stroke-width="1.6" stroke-linejoin="miter" stroke-linecap="butt"/>
<path d="M423.7 642.8V648.2M421 645.5H426.4M439.3 672.6V678M436.6 675.3H442M441.5 672.6V678M438.8 675.3H444.2M441.9 672.6V678M439.2 675.3H444.6M446.1 672.6V678M443.4 675.3H448.8M451.4 678.7V684.1M448.7 681.4H454.1M456.7 690.8V696.2M454 693.5H459.4M463.4 690.8V696.2M460.7 693.5H466.1M465.5 697.5V702.9M462.8 700.2H468.2M469.5 706.3V711.7M466.8 709H472.2M473.9 714.3V719.7M471.2 717H476.6M479.7 723.5V728.9M477 726.2H482.4M481.6 723.5V728.9M478.9 726.2H484.3M501.5 734.4V739.8M498.8 737.1H504.2M510.3 746.8V752.2M507.6 749.5H513M517.9 746.8V752.2M515.2 749.5H520.6M585.4 746.8V752.2M582.7 749.5H588.1M613.8 746.8V752.2M611.1 749.5H616.5M667 789.1V794.5M664.3 791.8H669.7" fill="none" stroke="#b0123f" stroke-width="1.0"/>
</svg>
</body></html>
